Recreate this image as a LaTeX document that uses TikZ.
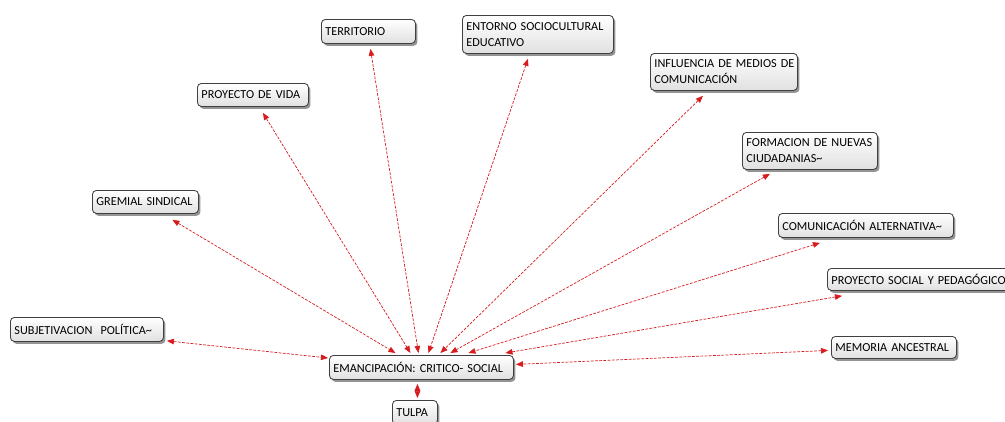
\documentclass[tikz,border=0pt]{standalone}
\usepackage{fontspec}
\setmainfont{Carlito}
\usepackage{tikz}
\usetikzlibrary{arrows.meta,shadows}
\usetikzlibrary{positioning}
\definecolor{rojoflecha}{RGB}{215,28,32}

\tikzset{
caja/.style={rectangle,rounded corners=0.1cm,draw=black!75,line width=0.6pt,top color=white,bottom color=black!12,
  drop shadow={shadow xshift=0.05cm,shadow yshift=-0.06cm,fill=black!60,opacity=0.7},
  anchor=north west,align=left,inner xsep=0.1cm,inner ysep=0pt,font=\fontsize{8.7}{11.2}\selectfont},
flecha/.style={rojoflecha,line width=0.5pt,dash pattern=on 2pt off 1pt,
  {Triangle[length=5pt,width=4pt]}-{Triangle[length=5pt,width=4pt]}}
}

\begin{document}
\begin{tikzpicture}[x=0.025cm,y=-0.025cm]
\useasboundingbox (0,0) rectangle (1005,421);
% cajas
\node at (321,19)[caja,text width=2.15cm,minimum height=0.6cm](terr){TERRITORIO};
\node at (462,15)[caja,text width=3.575cm,minimum height=0.95cm](entorno){ENTORNO SOCIOCULTURAL\\EDUCATIVO};
\node at (650,53)[caja,text width=3.475cm,minimum height=0.925cm](influ){\mbox{INFLUENCIA DE MEDIOS DE}\\COMUNICACIÓN};
\node at (197,83)[caja,text width=2.575cm,minimum height=0.575cm](vida){PROYECTO DE VIDA};
\node at (742,132)[caja,text width=3.175cm,minimum height=0.925cm](forma){FORMACION DE NUEVAS\\CIUDADANIAS\textasciitilde};
\node at (92,190)[caja,text width=2.45cm,minimum height=0.575cm](gremial){GREMIAL SINDICAL};
\node at (778,213)[caja,text width=4.175cm,minimum height=0.6cm](comalt){COMUNICACIÓN ALTERNATIVA\textasciitilde};
\node at (827,268)[caja,text width=4.425cm,minimum height=0.55cm](psocial){PROYECTO SOCIAL Y PEDAGÓGICO};
\node at (831,336)[caja,text width=2.925cm,minimum height=0.55cm](memoria){MEMORIA ANCESTRAL};
\node at (10,317)[caja,text width=3.625cm,minimum height=0.6cm](subj){SUBJETIVACION\ \ POLÍTICA\textasciitilde};
\node at (329,355)[caja,text width=4.4cm,minimum height=0.6cm](emanc){EMANCIPACIÓN: CRITICO- SOCIAL};
\node at (392,400)[caja,text width=0.925cm,minimum height=0.6cm](tulpa){TULPA};
% flechas
\draw[flecha] ([shift={(27,6)}]gremial.south) -- ([shift={(-26,-2)}]emanc.north);
\draw[flecha] ([shift={(10,6)}]vida.south) -- ([shift={(-11,-2)}]emanc.north);
\draw[flecha] ([shift={(2,5)}]terr.south) -- ([shift={(-3,-2)}]emanc.north);
\draw[flecha] ([shift={(-10,5)}]entorno.south) -- ([shift={(7,-2)}]emanc.north);
\draw[flecha] ([shift={(-21,5)}]influ.south) -- ([shift={(19,-2)}]emanc.north);
\draw[flecha] ([shift={(-40,4)}]forma.south) -- ([shift={(29,-2)}]emanc.north);
\draw[flecha] ([shift={(-46,5)}]comalt.south) -- ([shift={(47,-2)}]emanc.north);
\draw[flecha] ([shift={(15,5)}]psocial.south west) -- ([shift={(84,-2)}]emanc.north);
\draw[flecha] ([shift={(3,-1)}]subj.south east) -- ([shift={(-1,3)}]emanc.north west);
\draw[flecha] ([shift={(-3,3)}]memoria.west) -- ([shift={(2,-3)}]emanc.east);
\draw[flecha] ([shift={(-4,4)}]emanc.south) -- ([shift={(2.5,-2)}]tulpa.north);
\end{tikzpicture}
\end{document}
